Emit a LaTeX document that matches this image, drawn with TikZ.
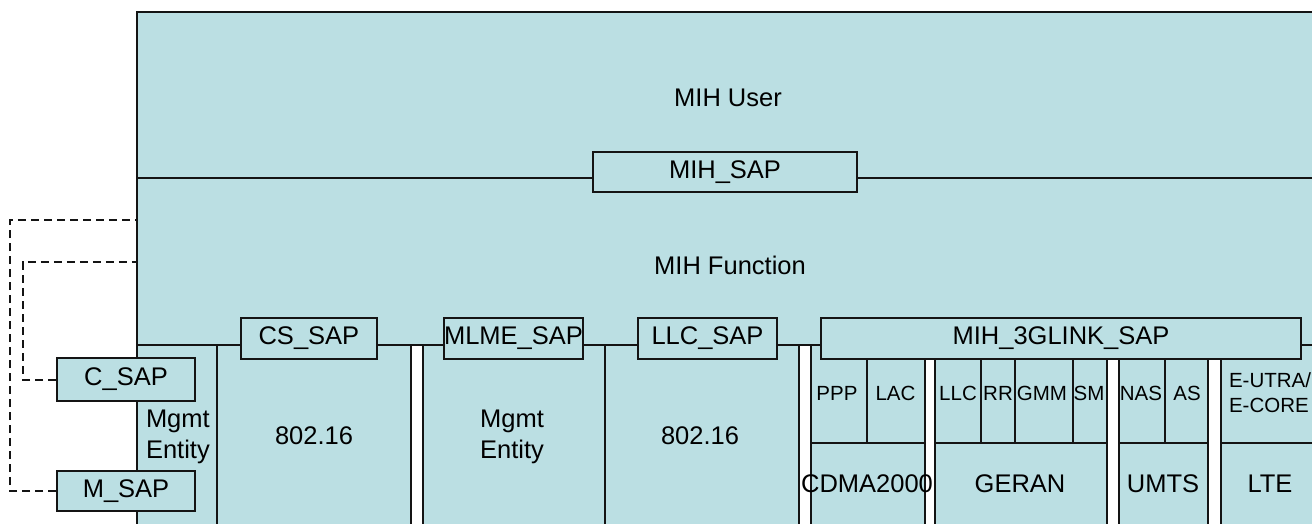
\documentclass[tikz,border=0pt]{standalone}
\usepackage{fontspec}
\setmainfont{Liberation Sans}
\definecolor{mihfill}{RGB}{187,223,227}
\definecolor{edge}{RGB}{20,20,20}
\begin{document}
\begin{tikzpicture}[x=1pt, y=-1pt, line width=2pt, draw=edge,
  sap/.style={draw=edge, fill=mihfill, inner sep=0pt, font=\fontsize{25.5}{30}\selectfont},
  big/.style={inner sep=0pt, font=\fontsize{25.5}{31}\selectfont},
  small/.style={inner sep=0pt, font=\fontsize{20.5}{25.5}\selectfont},
  gapbar/.style={draw=edge, fill=white},
  mgmtlink/.style={draw=edge, line width=2pt, dash pattern=on 8pt off 5pt}]
\useasboundingbox (0,0) rectangle (1312,523);
\clip (0,0) rectangle (1312,523);

% MIH stack background and outer border
\fill[mihfill] (137,12) rectangle (1330,540);
\draw (1330,12) -- (137,12) -- (137,540);

% MIH_SAP between the MIH user and the MIH function
\node[sap, minimum width=264pt, minimum height=40pt] (mihsap) at (725,172) {MIH\_SAP};
\draw (137,178) -- (mihsap.west |- 0,178);
\draw (mihsap.east |- 0,178) -- (1330,178);

% lower layer boundary and column separators
\draw (137,345) -- (1330,345);
\draw (217,345) -- (217,540);
\draw (605,345) -- (605,540);
\draw[gapbar] (411,345) rectangle (423,540);
\draw[gapbar] (799,345) rectangle (811,540);
\draw[gapbar] (925,359) rectangle (935,540);
\draw[gapbar] (1107,359) rectangle (1119,540);
\draw[gapbar] (1208,359) rectangle (1221,540);

% 3G technology sub-cells
\draw (811,443) -- (925,443);
\draw (935,443) -- (1107,443);
\draw (1119,443) -- (1208,443);
\draw (1221,443) -- (1330,443);
\draw (867,359) -- (867,443);
\draw (981,359) -- (981,443);
\draw (1015,359) -- (1015,443);
\draw (1073,359) -- (1073,443);
\draw (1165,359) -- (1165,443);

% service access points
\node[sap, minimum width=136.3pt, minimum height=41pt] (cssap) at (308.9,338.5) {CS\_SAP};
\node[sap, minimum width=139pt, minimum height=41pt] (mlmesap) at (513.5,338.5) {MLME\_SAP};
\node[sap, minimum width=139pt, minimum height=41pt] (llcsap) at (707.5,338.5) {LLC\_SAP};
\node[sap, minimum width=480pt, minimum height=41pt] (glinksap) at (1061,338.5) {MIH\_3GLINK\_SAP};
\node[sap, minimum width=138pt, minimum height=43pt] (csap) at (126,379.5) {C\_SAP};
\node[sap, minimum width=138pt, minimum height=40pt] (msap) at (126,491) {M\_SAP};

% management links to the MIH function
\coordinate (fnA) at (137,220);
\coordinate (fnB) at (137,262);
\draw[mgmtlink] (msap.west) -- (10,491) -- (10,220) -- (fnA);
\draw[mgmtlink] (csap.west) -- (22.7,379.5) -- (22.7,262) -- (fnB);

% labels
\node[big] (user) at (728,98) {MIH User};
\node[big] (func) at (730,265) {MIH Function};
\node[big, anchor=west, align=left] (mgmtA) at (145,437) {Mgmt\\Entity};
\node[big] (wimaxA) at (314,436) {802.16};
\node[big, align=center] (mgmtB) at (512,437) {Mgmt\\Entity};
\node[big] (wimaxB) at (700,436) {802.16};

\node[small] (ppp) at (837,393) {PPP};
\node[small] (lac) at (895.5,393) {LAC};
\node[small] (llc) at (958,393) {LLC};
\node[small] (rr) at (998,393) {RR};
\node[small] (gmm) at (1042,393) {GMM};
\node[small] (sm) at (1089,393) {SM};
\node[small] (nas) at (1141,393) {NAS};
\node[small] (as) at (1187,393) {AS};
\node[small, anchor=west, align=left] (eutra) at (1228,392.5) {E-UTRA/\\E-CORE};

\node[big] (cdma) at (867,484) {CDMA2000};
\node[big] (geran) at (1020,484) {GERAN};
\node[big] (umts) at (1163,484) {UMTS};
\node[big] (lte) at (1270,484) {LTE};
\end{tikzpicture}
\end{document}
